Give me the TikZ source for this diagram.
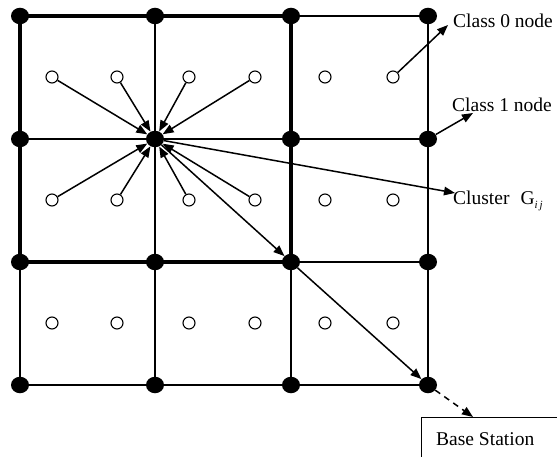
\documentclass[tikz,border=0pt]{standalone}
\usepackage{fontspec}
\setmainfont{Liberation Serif}
\usetikzlibrary{arrows.meta,backgrounds,shapes.geometric}
\begin{document}
\begin{tikzpicture}[x=1pt,y=-1pt,
  bnode/.style={ellipse,fill=black,inner sep=0pt,minimum width=18pt,minimum height=16.5pt},
  hnode/.style={circle,draw=black,fill=white,line width=1.1pt,inner sep=0pt,minimum size=12pt},
  gridthin/.style={line width=1.3pt},
  gridthick/.style={line width=3.2pt,line join=miter},
  arr/.style={line width=1.5pt,-{Triangle[length=11pt,width=8.5pt]}},
  lbl/.style={font=\fontsize{19.5}{22}\selectfont,inner sep=0pt},
]
\clip (0,0) rectangle (557,457);
\foreach \i/\x in {0/20,1/155,2/291,3/428}
  \foreach \j/\y in {0/16,1/139,2/262,3/385}
    \node[bnode] (n\i\j) at (\x,\y) {};
\foreach \i/\x in {1/52,2/117,3/189,4/255,5/325,6/393}
  \foreach \j/\y in {1/77,2/200,3/323}
    \node[hnode] (h\i\j) at (\x,\y) {};
\begin{scope}[on background layer]
  \foreach \j in {0,...,3} \draw[gridthin] (n0\j.center) -- (n3\j.center);
  \foreach \i in {0,...,3} \draw[gridthin] (n\i0.center) -- (n\i3.center);
  \draw[gridthick] (n00.center) -- (n20.center) -- (n22.center) -- (n02.center) -- cycle;
\end{scope}
% labels
\node[lbl,anchor=base west] (c0) at (453,28) {Class 0 node};
\node[lbl,anchor=base west] (c1) at (452,112) {Class 1 node};
\node[lbl,anchor=base west] (cg) at (453,205) {Cluster\hspace{11pt}G\raisebox{-4pt}{\fontsize{11}{12}\selectfont\itshape i\,j}};
\node[draw,line width=1pt,anchor=north west,minimum width=160pt,minimum height=60pt] (bs) at (421,417) {};
\node[lbl,anchor=base west] (bst) at (436,445) {Base Station};
\coordinate (c0tip) at (448,25);
\coordinate (c1tip) at (473,113);
\coordinate (cltip) at (455,193);
\coordinate (bstip) at (473,417);
% arrows
\foreach \h in {11,21,31,41,12,22,32,42} \draw[arr] (h\h) -- (n11);
\draw[arr] (n11) -- (n22);
\draw[arr] (n22) -- (n33);
\draw[arr] (n11) -- (cltip);
\draw[arr] (h61) -- (c0tip);
\draw[arr] (n31) -- (c1tip);
\draw[arr,dash pattern=on 6pt off 5pt] (n33) -- (bstip);
\end{tikzpicture}
\end{document}
